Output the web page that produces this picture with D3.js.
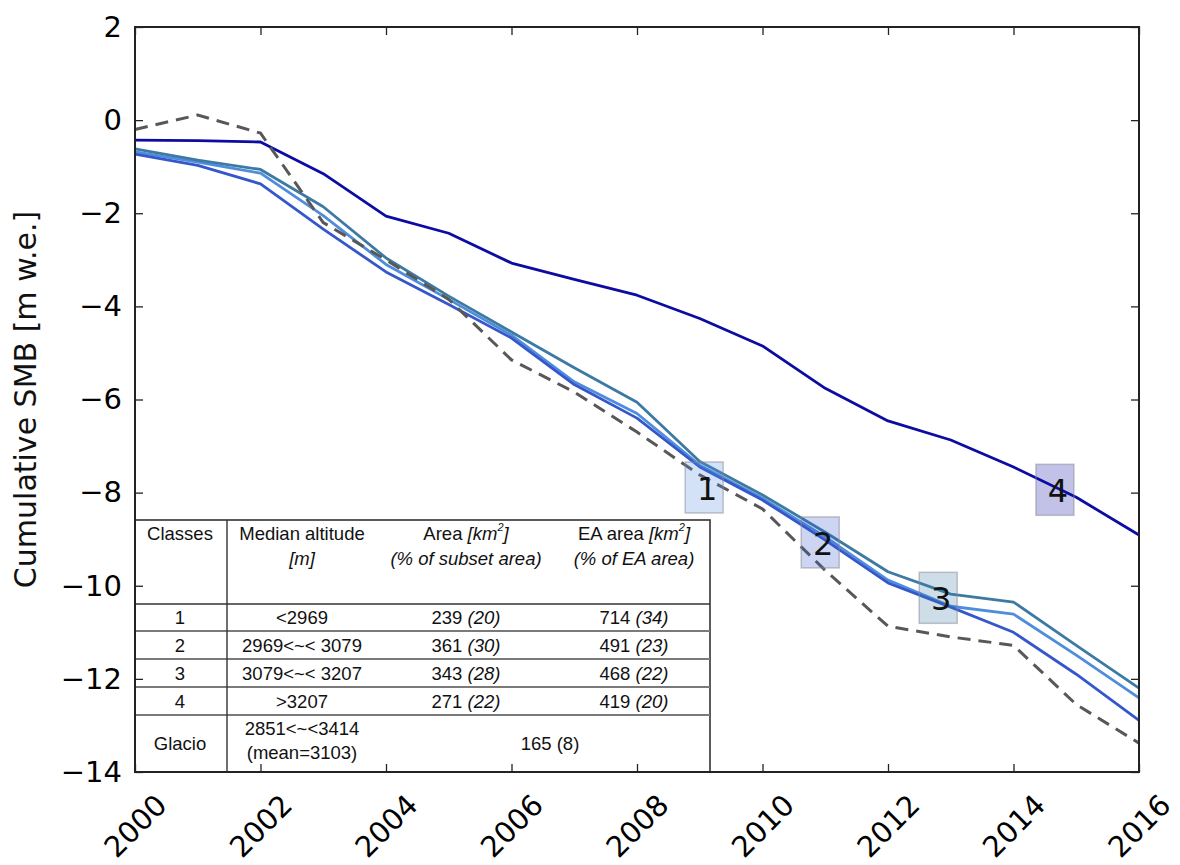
<!DOCTYPE html>
<html>
<head>
<meta charset="utf-8">
<script src="https://cdn.jsdelivr.net/npm/d3@7"></script>
<style>
  body { margin: 0; background: #fff; }
  svg { display: block; }
</style>
</head>
<body>
<svg id="chart" width="1180" height="865"></svg>
<script>
// years and cumulative SMB per altitude class (m w.e.)
let years = [2000, 2001, 2002, 2003, 2004, 2005, 2006, 2007, 2008, 2009, 2010, 2011, 2012, 2013, 2014, 2015, 2016]
let class1 = [-0.68, -0.90, -1.14, -2.05, -3.10, -3.85, -4.62, -5.62, -6.30, -7.41, -8.12, -8.95, -9.88, -10.44, -10.61, -11.49, -12.41]
let class2 = [-0.73, -0.97, -1.37, -2.34, -3.26, -3.96, -4.68, -5.68, -6.40, -7.45, -8.16, -9.02, -9.94, -10.46, -11.00, -11.90, -12.89]
let class3 = [-0.62, -0.86, -1.06, -1.86, -2.96, -3.78, -4.55, -5.32, -6.06, -7.33, -8.05, -8.85, -9.70, -10.18, -10.35, -11.28, -12.20]
let class4 = [-0.43, -0.44, -0.47, -1.15, -2.06, -2.43, -3.07, -3.42, -3.76, -4.26, -4.85, -5.76, -6.46, -6.87, -7.45, -8.10, -8.91]
let glacio = [-0.20, 0.11, -0.28, -2.20, -3.00, -3.85, -5.15, -5.84, -6.70, -7.62, -8.35, -9.67, -10.87, -11.10, -11.28, -12.55, -13.38]

let xTicks = [2000, 2002, 2004, 2006, 2008, 2010, 2012, 2014, 2016]
let yTicks = [2, 0, -2, -4, -6, -8, -10, -12, -14]

// class labels placed on the lines
let labelText = ["1", "2", "3", "4"]
let labelYear = [2009.07, 2010.92, 2012.8, 2014.66]
let labelValue = [-7.9, -9.08, -10.27, -7.95]

// table rows
let tableHeader = ["Classes", "Median altitude", "Area", "EA area"]
let rowClass = ["1", "2", "3", "4"]
let rowAltitude = ["<2969", "2969<~< 3079", "3079<~< 3207", ">3207"]
let rowArea = ["239", "361", "343", "271"]
let rowAreaPct = ["(20)", "(30)", "(28)", "(22)"]
let rowEA = ["714", "491", "468", "419"]
let rowEAPct = ["(34)", "(23)", "(22)", "(20)"]

let svg = d3.select("#chart")
let margin = { left: 135, top: 27, right: 1139, bottom: 772 }

let x = d3.scaleLinear().domain([2000, 2016]).range([margin.left, margin.right])
let y = d3.scaleLinear().domain([-14, 2]).range([margin.bottom, margin.top])

let series = [
    { name: "1", values: class1, color: "#4f8ddc" },
    { name: "2", values: class2, color: "#3557cc" },
    { name: "3", values: class3, color: "#3d7aa3" },
    { name: "4", values: class4, color: "#0c0ca2" }
]

let line = d3.line()
    .x(function (d, i) { return x(years[i]) })
    .y(function (d) { return y(d) })

// the coloured class lines
svg.selectAll(".cls")
    .data(series)
    .enter()
    .append("path")
    .attr("class", "cls")
    .attr("d", function (d) { return line(d.values) })
    .style("fill", "none")
    .style("stroke", function (d) { return d.color })
    .style("stroke-width", 2.8)
    .style("stroke-linejoin", "round")

// glacier wide series, dashed
svg.append("path")
    .attr("d", line(glacio))
    .style("fill", "none")
    .style("stroke", "#585858")
    .style("stroke-width", 3)
    .style("stroke-dasharray", "13,8")

// label boxes
let lab = svg.selectAll(".lab")
    .data(labelText)
    .enter()
    .append("g")
    .attr("class", "lab")
    .attr("transform", function (d, i) { return "translate(" + x(labelYear[i]) + "," + y(labelValue[i]) + ")" })

lab.append("rect")
    .attr("x", -19).attr("y", -26)
    .attr("width", 38).attr("height", 51)
    .style("fill", function (d, i) { return series[i].color })
    .style("fill-opacity", 0.25)
    .style("stroke", "#8a8a9a")
    .style("stroke-opacity", 0.5)
    .style("stroke-width", 1.5)

lab.append("text")
    .attr("x", 3)
    .attr("y", 1)
    .attr("text-anchor", "middle")
    .attr("dominant-baseline", "central")
    .style("font-family", "DejaVu Sans")
    .style("font-size", "32px")
    .style("fill", "#111")
    .text(function (d) { return d })

// table
let tbl = svg.append("g").style("font-family", "'Liberation Sans', Arial, sans-serif").style("font-size", "18.5px")
let tLeft = 135, tRight = 710, tTop = 520, tBottom = 772, tSep = 227
let colX = [180, 302, 466, 634]
let rowLines = [604, 631, 659, 687, 715]
let rowMid = [617, 645, 673, 701]

tbl.append("rect")
    .attr("x", tLeft).attr("y", tTop)
    .attr("width", tRight - tLeft).attr("height", tBottom - tTop)
    .style("fill", "#fff")
    .style("stroke", "#333")
    .style("stroke-width", 1.6)

tbl.selectAll(".hl")
    .data(rowLines)
    .enter()
    .append("line")
    .attr("x1", tLeft).attr("x2", tRight)
    .attr("y1", function (d) { return d }).attr("y2", function (d) { return d })
    .style("stroke", function (d, i) { return i == 0 ? "#333" : "#7a7a7a" })
    .style("stroke-width", function (d, i) { return i == 0 ? 1.4 : 2 })

tbl.append("line")
    .attr("x1", tSep).attr("x2", tSep)
    .attr("y1", tTop).attr("y2", tBottom)
    .style("stroke", "#333").style("stroke-width", 1.4)

function cell(cx, cy, parts) {
    let t = tbl.append("text")
        .attr("x", cx).attr("y", cy)
        .attr("text-anchor", "middle")
        .attr("dominant-baseline", "central")
        .style("fill", "#111")
    parts.forEach(function (p) {
        let s = t.append("tspan").text(p[0])
        if (p[1]) s.style("font-style", "italic")
        if (p[2]) s.attr("baseline-shift", "super").style("font-size", "11px")
    })
    return t
}

// header
cell(colX[0], 533, [[tableHeader[0]]])
cell(colX[1], 533, [[tableHeader[1]]])
cell(colX[1], 558, [["[m]", true]])
cell(colX[2], 533, [[tableHeader[2] + " "], ["[km", true], ["2", true, true], ["]", true]])
cell(colX[2], 558, [["(% of subset area)", true]])
cell(colX[3], 533, [[tableHeader[3] + " "], ["[km", true], ["2", true, true], ["]", true]])
cell(colX[3], 558, [["(% of EA area)", true]])

// class rows
rowClass.forEach(function (c, i) {
    cell(colX[0], rowMid[i], [[c]])
    cell(colX[1], rowMid[i], [[rowAltitude[i]]])
    cell(colX[2], rowMid[i], [[rowArea[i] + " "], [rowAreaPct[i], true]])
    cell(colX[3], rowMid[i], [[rowEA[i] + " "], [rowEAPct[i], true]])
})

// glacier row
cell(colX[0], 743, [["Glacio"]])
cell(colX[1], 728, [["2851<~<3414"]])
cell(colX[1], 752, [["(mean=3103)"]])
cell((colX[2] + colX[3]) / 2, 743, [["165 (8)"]])

// axes, ticks pointing inward on all sides
let tickFont = function (g) {
    g.selectAll("text").style("font-family", "DejaVu Sans").style("font-size", "29px").style("fill", "#000")
    g.selectAll(".tick line").style("stroke", "#222").style("stroke-width", 1.3)
    g.select(".domain").remove()
}

svg.append("g")
    .attr("transform", "translate(" + margin.left + ",0)")
    .call(d3.axisLeft(y).tickValues(yTicks).tickSize(-8).tickPadding(13))
    .call(tickFont)

svg.append("g")
    .attr("transform", "translate(" + margin.right + ",0)")
    .call(d3.axisRight(y).tickValues(yTicks).tickSize(-8).tickFormat(""))
    .call(tickFont)

svg.append("g")
    .attr("transform", "translate(0," + margin.top + ")")
    .call(d3.axisTop(x).tickValues(xTicks).tickSize(-8).tickFormat(""))
    .call(tickFont)

let xa = svg.append("g")
    .attr("transform", "translate(0," + margin.bottom + ")")
    .call(d3.axisBottom(x).tickValues(xTicks).tickSize(-8).tickFormat(d3.format("d")))
    .call(tickFont)

xa.selectAll("text")
    .attr("y", null)
    .attr("dy", null)
    .attr("text-anchor", "middle")
    .attr("dominant-baseline", "central")
    .attr("transform", "translate(0,54) rotate(-45)")

// frame
svg.append("rect")
    .attr("x", margin.left).attr("y", margin.top)
    .attr("width", margin.right - margin.left)
    .attr("height", margin.bottom - margin.top)
    .style("fill", "none")
    .style("stroke", "#222")
    .style("stroke-width", 2)

// axis title
svg.append("text")
    .attr("transform", "translate(36," + ((margin.top + margin.bottom) / 2) + ") rotate(-90)")
    .attr("text-anchor", "middle")
    .style("font-family", "DejaVu Sans")
    .style("font-size", "30px")
    .style("fill", "#111")
    .text("Cumulative SMB [m w.e.]")
</script>
</body>
</html>
